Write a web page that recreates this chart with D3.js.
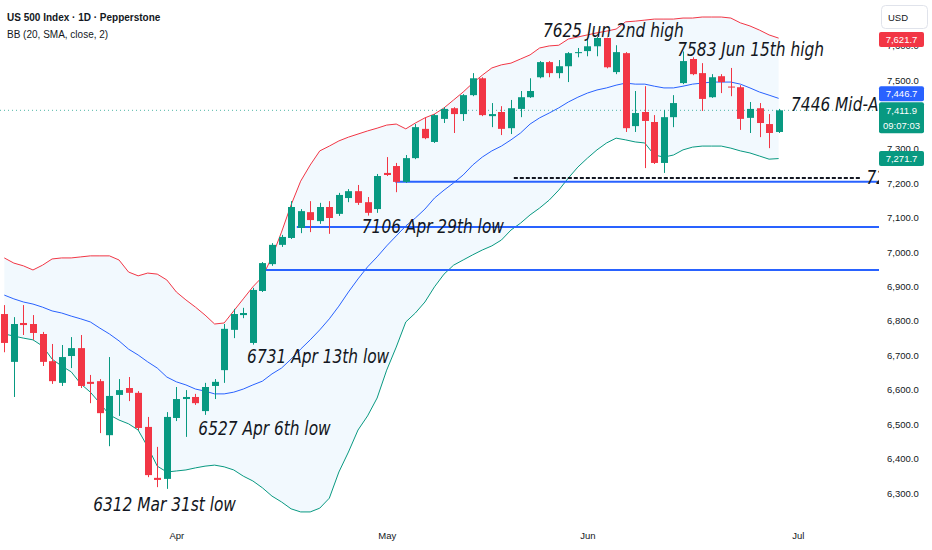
<!DOCTYPE html>
<html>
<head>
    <meta charset="utf-8">
    <title>US 500 Index 1D</title>
    <script src="https://d3js.org/d3.v7.min.js"></script>
    <style>
        body {
            margin: 0;
            background: #ffffff;
        }
        svg {
            display: block;
        }
    </style>
</head>
<body>
    <div id="chart"></div>
    <script>
        // daily bars, index 0 = Mar 6, index 17 = Mar 31, index 81 = Jun 29
        let barOpen = [6820, 6681, 6794, 6791, 6762, 6683, 6620, 6698, 6721, 6623,
            6625, 6468, 6585, 6605, 6591, 6492, 6344, 6341, 6518, 6573,
            6579, 6538, 6611, 6657, 6774, 6817, 6736, 6887, 6965, 7021,
            7041, 7070, 7116, 7090, 7131, 7111, 7157, 7177, 7145, 7125,
            7230, 7250, 7204, 7273, 7358, 7320, 7387, 7418, 7401, 7456,
            7505, 7395, 7407, 7360, 7416, 7450, 7508, 7552, 7520, 7540,
            7578, 7584, 7598, 7622, 7523, 7578, 7366, 7407, 7378, 7259,
            7392, 7491, 7561, 7520, 7450, 7511, 7481, 7479, 7390, 7418,
            7372, 7349];
        let barHigh = [6846, 6811, 6846, 6817, 6768, 6733, 6730, 6753, 6759, 6643,
            6631, 6695, 6631, 6637, 6596, 6521, 6434, 6535, 6608, 6599,
            6588, 6620, 6631, 6791, 6835, 6838, 6896, 6971, 7026, 7050,
            7148, 7125, 7148, 7143, 7148, 7172, 7183, 7195, 7160, 7227,
            7276, 7259, 7282, 7372, 7390, 7401, 7421, 7421, 7459, 7520,
            7508, 7433, 7424, 7442, 7468, 7505, 7555, 7555, 7558, 7581,
            7593, 7622, 7625, 7623, 7601, 7581, 7468, 7482, 7398, 7413,
            7456, 7583, 7566, 7549, 7517, 7517, 7535, 7485, 7436, 7433,
            7401, 7416];
        let barLow = [6709, 6579, 6759, 6745, 6669, 6617, 6611, 6663, 6605, 6561,
            6474, 6436, 6524, 6567, 6483, 6346, 6317, 6312, 6509, 6463,
            6556, 6527, 6573, 6620, 6750, 6808, 6731, 6884, 6960, 7015,
            7038, 7055, 7058, 7082, 7053, 7105, 7145, 7137, 7106, 7114,
            7221, 7174, 7201, 7270, 7328, 7317, 7375, 7346, 7381, 7453,
            7395, 7363, 7340, 7343, 7392, 7448, 7505, 7508, 7505, 7494,
            7566, 7569, 7569, 7534, 7517, 7349, 7349, 7244, 7256, 7230,
            7363, 7488, 7514, 7410, 7448, 7462, 7453, 7355, 7346, 7334,
            7302, 7346];
        let barClose = [6736, 6791, 6788, 6765, 6681, 6625, 6695, 6721, 6611, 6617,
            6532, 6582, 6599, 6591, 6489, 6352, 6338, 6521, 6573, 6579,
            6561, 6608, 6623, 6777, 6820, 6823, 6890, 6968, 7021, 7044,
            7131, 7119, 7093, 7131, 7099, 7166, 7177, 7143, 7114, 7221,
            7224, 7204, 7273, 7363, 7331, 7398, 7416, 7401, 7456, 7505,
            7398, 7401, 7358, 7418, 7450, 7468, 7552, 7520, 7540, 7578,
            7581, 7598, 7622, 7537, 7581, 7360, 7404, 7381, 7259, 7392,
            7433, 7555, 7517, 7445, 7508, 7494, 7478, 7387, 7416, 7375,
            7346, 7411.9];

        // Bollinger Bands (20, SMA, close, 2)
        let bbUpper = [6983, 6968, 6960, 6948, 6962, 6980, 6983, 6983, 6986, 6989,
            6989, 6989, 6977, 6942, 6931, 6939, 6936, 6919, 6884, 6861,
            6840, 6817, 6791, 6794, 6829, 6864, 6899, 6928, 6986, 7058,
            7137, 7206, 7253, 7294, 7308, 7323, 7334, 7343, 7352, 7360,
            7369, 7372, 7358, 7375, 7390, 7401, 7419, 7442, 7465, 7491,
            7514, 7535, 7544, 7549, 7561, 7573, 7593, 7599, 7601, 7619,
            7625, 7631, 7637, 7642, 7648, 7669, 7671, 7674, 7677, 7677,
            7677, 7680, 7680, 7683, 7683, 7683, 7680, 7666, 7657, 7645,
            7631, 7621.7];
        let bbBasis = [6875, 6864, 6855, 6849, 6840, 6829, 6823, 6814, 6806, 6797,
            6779, 6762, 6742, 6718, 6701, 6681, 6663, 6637, 6623, 6614,
            6602, 6596, 6588, 6588, 6593, 6602, 6614, 6625, 6646, 6663,
            6689, 6718, 6745, 6774, 6806, 6843, 6884, 6922, 6957, 6986,
            7018, 7047, 7076, 7099, 7125, 7157, 7180, 7201, 7224, 7253,
            7276, 7294, 7308, 7326, 7346, 7372, 7390, 7404, 7419, 7436,
            7450, 7462, 7471, 7477, 7485, 7491, 7488, 7488, 7482, 7477,
            7477, 7482, 7488, 7491, 7494, 7494, 7494, 7488, 7477, 7465,
            7456, 7446.7];
        let bbLower = [6762, 6756, 6750, 6745, 6727, 6689, 6669, 6652, 6617, 6593,
            6561, 6527, 6512, 6501, 6483, 6434, 6378, 6361, 6364, 6367,
            6373, 6378, 6381, 6376, 6367, 6349, 6335, 6315, 6291, 6274,
            6254, 6245, 6245, 6256, 6285, 6361, 6419, 6483, 6524, 6576,
            6657, 6724, 6797, 6823, 6855, 6899, 6936, 6962, 6977, 6992,
            7006, 7018, 7035, 7064, 7084, 7108, 7128, 7151, 7180, 7215,
            7247, 7273, 7297, 7317, 7331, 7326, 7320, 7317, 7282, 7276,
            7282, 7297, 7305, 7308, 7308, 7308, 7302, 7294, 7288, 7279,
            7270, 7271.7];

        // 7,400 sits fully under the price tags, so it is left out
        let yTicks = [6300, 6400, 6500, 6600, 6700, 6800, 6900, 7000, 7100, 7200, 7300, 7500, 7600];
        let monthLabels = ["Apr", "May", "Jun", "Jul"];
        let monthBars = [18, 40, 61, 83];

        // drawn horizontal rays
        let levelPrices = [7204, 7073, 6948];
        let levelFromBars = [40.9, 30.6, 27.3];
        let dashedPrice = 7215;
        let dashedFromBar = 53.3;
        let dashedToBar = 89.6;

        // text notes on the chart
        let noteTexts = ["7625 Jun 2nd high", "7583 Jun 15th high", "7446 Mid-Avg", "7106 Apr 29th low",
            "6731 Apr 13th low", "6527 Apr 6th low", "6312 Mar 31st low", "7215"];
        let noteBars = [56.35, 70.4, 82.3, 37.4, 25.4, 20.3, 9.3, 90.2];
        let notePrices = [7624, 7570, 7410, 7055, 6678, 6469, 6248, 7198];

        let countdown = "09:07:03";

        let width = 932;
        let height = 550;
        let plotRight = 879;
        let plotBottom = 520;
        let green = "#089981";
        let red = "#f23645";
        let blue = "#2962ff";
        let ink = "#131722";
        let uiFont = "'Liberation Sans', Arial, sans-serif";
        let noteFont = "'DejaVu Sans', sans-serif";
        let noteSqueeze = 0.77;

        let bars = barClose.map((c, i) => ({
            i: i, o: barOpen[i], h: barHigh[i], l: barLow[i], c: c,
            up: bbUpper[i], mid: bbBasis[i], lo: bbLower[i]
        }));

        let x = d3.scaleLinear()
            .domain([-0.45, 91.5])
            .range([0, plotRight]);

        let y = d3.scaleLinear()
            .domain([6300, 7500])
            .range([493, 80]);

        let svg = d3.select("#chart").append("svg")
            .attr("width", width)
            .attr("height", height)
            .attr("viewBox", [0, 0, width, height]);

        svg.append("defs").append("clipPath")
            .attr("id", "plot-clip")
            .append("rect")
            .attr("width", plotRight)
            .attr("height", plotBottom);

        let plot = svg.append("g").attr("clip-path", "url(#plot-clip)");

        // band fill and lines
        plot.append("path")
            .datum(bars)
            .attr("fill", "rgba(33, 150, 243, 0.06)")
            .attr("d", d3.area().x(d => x(d.i)).y0(d => y(d.lo)).y1(d => y(d.up)));

        [["up", red], ["mid", blue], ["lo", green]].forEach(([key, color]) => {
            plot.append("path")
                .datum(bars)
                .attr("fill", "none")
                .attr("stroke", color)
                .attr("stroke-width", 1)
                .attr("d", d3.line().x(d => x(d.i)).y(d => y(d[key])));
        });

        // last price dotted line
        plot.append("line")
            .attr("x1", 0)
            .attr("x2", plotRight)
            .attr("y1", y(barClose[barClose.length - 1]))
            .attr("y2", y(barClose[barClose.length - 1]))
            .attr("stroke", green)
            .attr("stroke-opacity", 0.7)
            .attr("stroke-dasharray", "1,3");

        // horizontal rays
        plot.selectAll(".level")
            .data(levelPrices)
            .join("line")
            .attr("class", "level")
            .attr("x1", (d, i) => x(levelFromBars[i]))
            .attr("x2", plotRight)
            .attr("y1", d => y(d))
            .attr("y2", d => y(d))
            .attr("stroke", blue)
            .attr("stroke-width", 2);

        plot.append("line")
            .attr("x1", x(dashedFromBar))
            .attr("x2", x(dashedToBar))
            .attr("y1", y(dashedPrice))
            .attr("y2", y(dashedPrice))
            .attr("stroke", ink)
            .attr("stroke-width", 2)
            .attr("stroke-dasharray", "4,2");

        // candles
        let candle = plot.append("g")
            .selectAll("g")
            .data(bars)
            .join("g")
            .attr("fill", d => d.c >= d.o ? green : red)
            .attr("stroke", d => d.c >= d.o ? green : red);

        candle.append("line")
            .attr("x1", d => Math.round(x(d.i)) + 0.5)
            .attr("x2", d => Math.round(x(d.i)) + 0.5)
            .attr("y1", d => y(d.h))
            .attr("y2", d => y(d.l))
            .attr("stroke-width", 1);

        candle.append("rect")
            .attr("x", d => Math.round(x(d.i)) - 3)
            .attr("width", 7)
            .attr("y", d => y(Math.max(d.o, d.c)))
            .attr("height", d => Math.max(1, Math.abs(y(d.o) - y(d.c))))
            .attr("stroke", "none");

        // notes, written in a tall narrow italic
        plot.selectAll(".note")
            .data(noteTexts)
            .join("text")
            .attr("class", "note")
            .attr("transform", (d, i) => `translate(${x(noteBars[i])},${y(notePrices[i])}) scale(${noteSqueeze},1)`)
            .attr("font-family", noteFont)
            .attr("font-style", "italic")
            .attr("font-size", 20)
            .attr("fill", ink)
            .text(d => d);

        // price axis
        let yAxis = svg.append("g")
            .attr("transform", `translate(${plotRight},0)`)
            .call(d3.axisRight(y)
                .tickValues(yTicks)
                .tickFormat(d3.format(",.1f"))
                .tickSize(0)
                .tickPadding(8))
            .call(g => g.select(".domain").remove());
        yAxis.selectAll("text")
            .attr("font-family", uiFont)
            .attr("font-size", 9.5)
            .attr("fill", ink);

        // time axis
        let xAxis = svg.append("g")
            .attr("transform", `translate(0,${plotBottom})`)
            .call(d3.axisBottom(x)
                .tickValues(monthBars)
                .tickFormat((d, i) => monthLabels[i])
                .tickSize(0)
                .tickPadding(12))
            .call(g => g.select(".domain").remove());
        xAxis.selectAll("text")
            .attr("font-family", uiFont)
            .attr("font-size", 9.5)
            .attr("fill", ink);

        // price tags on the axis
        let last = bars.length - 1;
        let fmt = d3.format(",.1f");
        let tagX = plotRight;
        let tagW = 45;
        let closeTop = y(barClose[last]) - 8;
        let tags = [
            {value: bbUpper[last], color: red, cy: y(bbUpper[last]) + 1.5, h: 15},
            {value: bbBasis[last], color: blue, cy: Math.min(y(bbBasis[last]), closeTop - 8.5), h: 15},
            {value: bbLower[last], color: green, cy: y(bbLower[last]), h: 15}
        ];
        let tagG = svg.append("g");
        tags.forEach(t => {
            tagG.append("rect")
                .attr("x", tagX)
                .attr("y", t.cy - t.h / 2)
                .attr("width", tagW)
                .attr("height", t.h)
                .attr("rx", 2)
                .attr("fill", t.color);
            tagG.append("text")
                .attr("x", tagX + tagW / 2)
                .attr("y", t.cy)
                .attr("dy", "0.35em")
                .attr("text-anchor", "middle")
                .attr("font-family", uiFont)
                .attr("font-size", 9.5)
                .attr("fill", "#ffffff")
                .text(fmt(t.value));
        });

        tagG.append("rect")
            .attr("x", tagX)
            .attr("y", closeTop)
            .attr("width", tagW)
            .attr("height", 31)
            .attr("rx", 2)
            .attr("fill", green);
        tagG.append("text")
            .attr("x", tagX + tagW / 2)
            .attr("y", y(barClose[last]))
            .attr("dy", "0.35em")
            .attr("text-anchor", "middle")
            .attr("font-family", uiFont)
            .attr("font-size", 9.5)
            .attr("fill", "#ffffff")
            .text(fmt(barClose[last]));
        tagG.append("text")
            .attr("x", tagX + tagW / 2)
            .attr("y", y(barClose[last]) + 15)
            .attr("dy", "0.35em")
            .attr("text-anchor", "middle")
            .attr("font-family", uiFont)
            .attr("font-size", 9.5)
            .attr("fill", "#ffffff")
            .text(countdown);

        // currency box
        svg.append("rect")
            .attr("x", 881.5)
            .attr("y", 5.5)
            .attr("width", 46)
            .attr("height", 23)
            .attr("rx", 4)
            .attr("fill", "#ffffff")
            .attr("stroke", "#e0e3eb");
        svg.append("text")
            .attr("x", 898)
            .attr("y", 21)
            .attr("text-anchor", "middle")
            .attr("font-family", uiFont)
            .attr("font-size", 9.5)
            .attr("fill", ink)
            .text("USD");

        // legend
        svg.append("text")
            .attr("x", 7)
            .attr("y", 21)
            .attr("font-family", uiFont)
            .attr("font-size", 10)
            .attr("font-weight", "bold")
            .attr("fill", ink)
            .text("US 500 Index · 1D · Pepperstone");
        svg.append("text")
            .attr("x", 7)
            .attr("y", 38)
            .attr("font-family", uiFont)
            .attr("font-size", 10)
            .attr("fill", ink)
            .text("BB (20, SMA, close, 2)");
    </script>
</body>
</html>
